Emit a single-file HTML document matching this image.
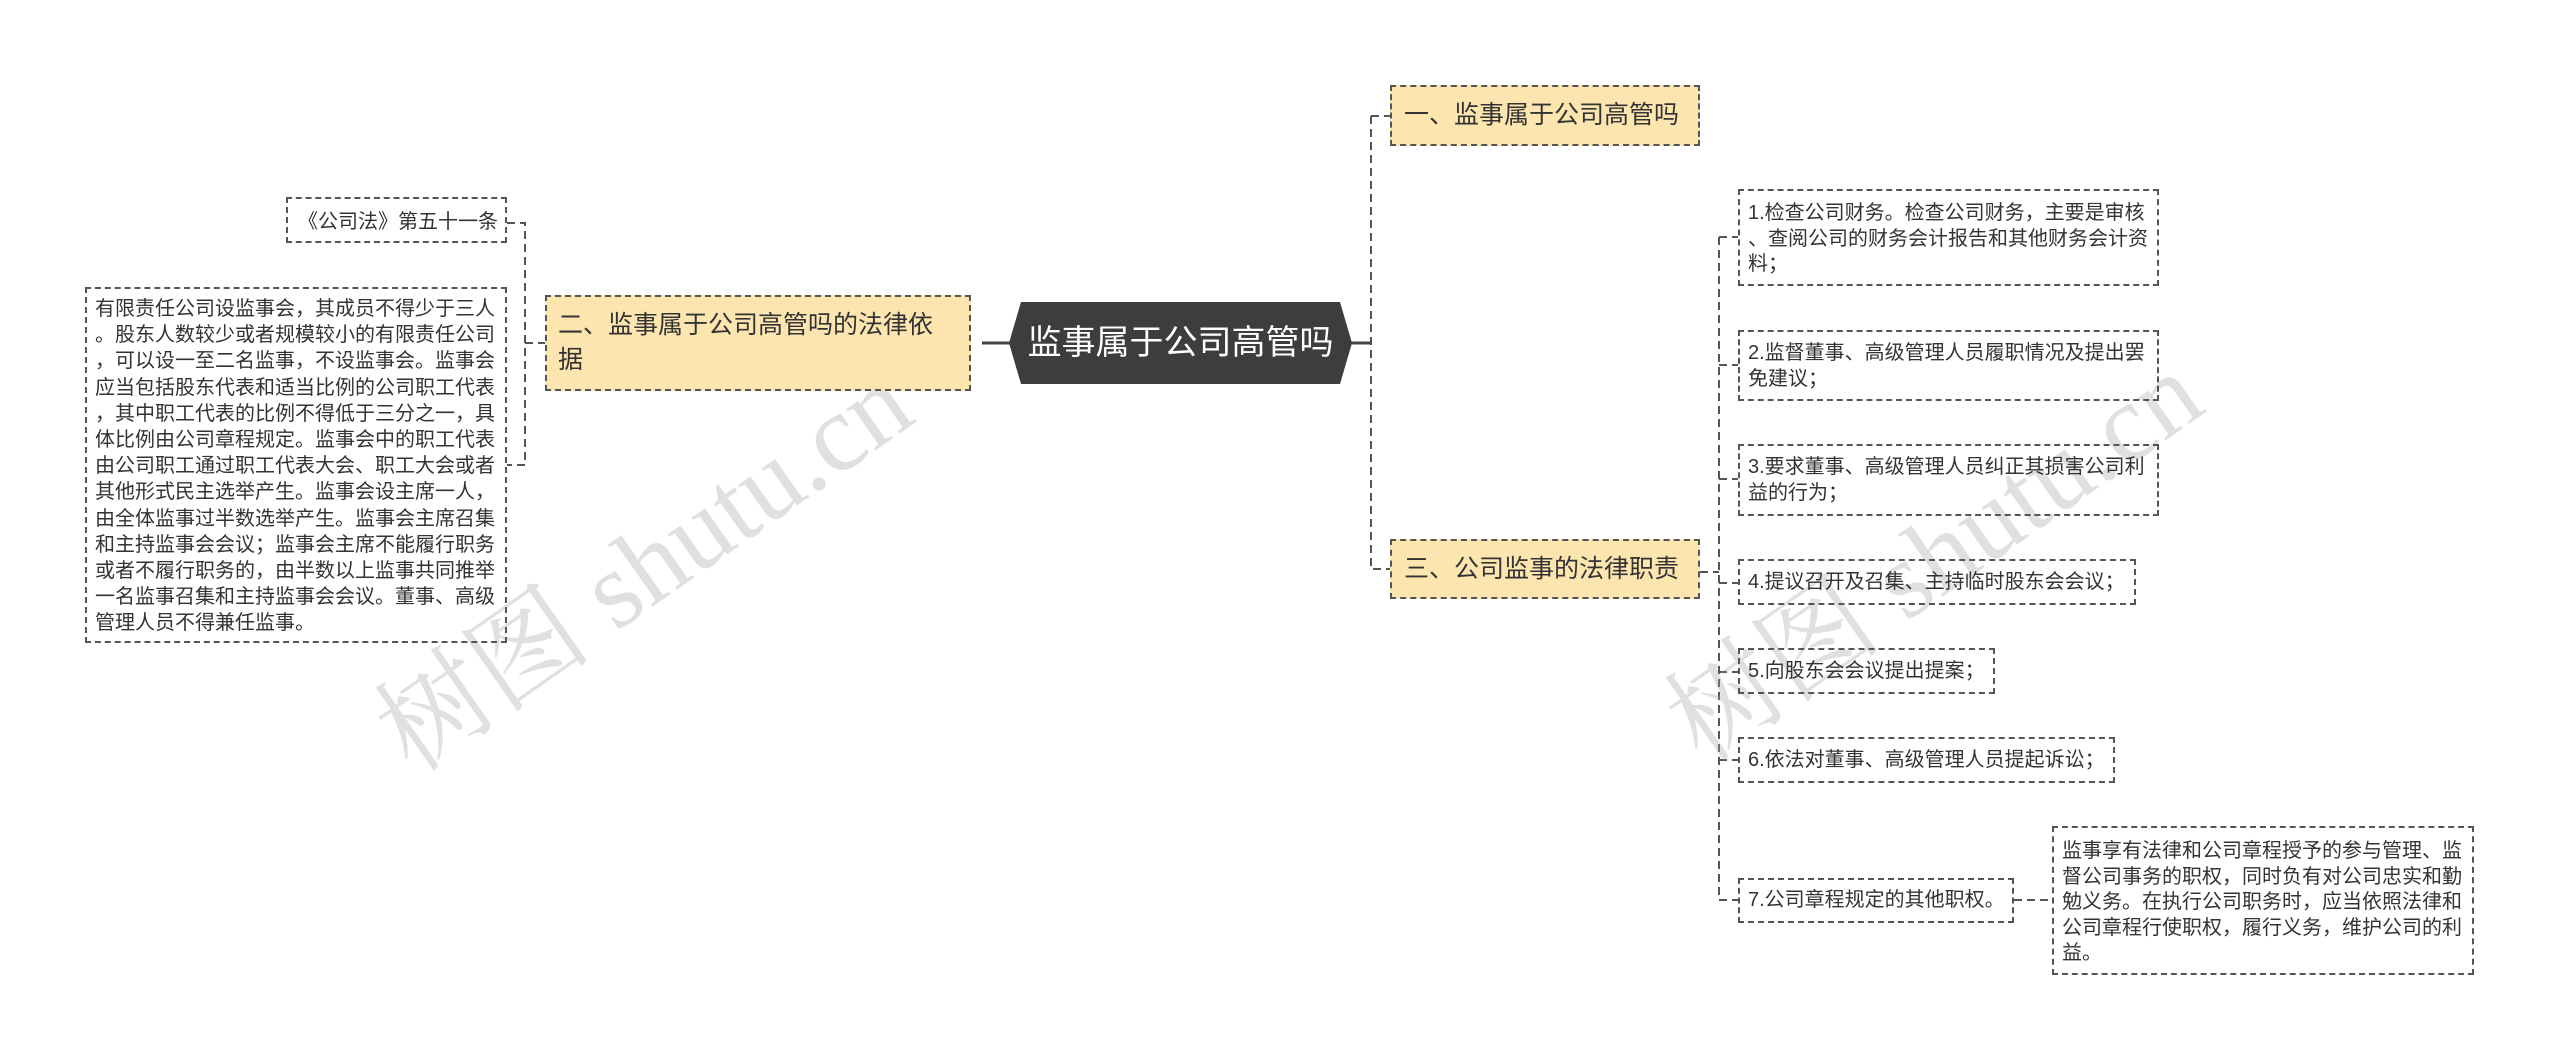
<!DOCTYPE html>
<html><head><meta charset="utf-8">
<style>
html,body{margin:0;padding:0;}
body{width:2560px;height:1061px;background:#fff;position:relative;overflow:hidden;font-family:"Liberation Sans","Noto Sans CJK SC",sans-serif;color:#333;}
.b{position:absolute;box-sizing:border-box;border:2px dashed #555;}
.y{background:#fde5b0;}
.t{position:absolute;white-space:pre;font-size:20px;line-height:25.5px;}
.wm{position:absolute;font-family:"Liberation Serif","Noto Serif CJK SC",serif;font-size:110px;color:rgba(160,160,160,0.33);transform:rotate(-35deg);white-space:nowrap;transform-origin:center;}
</style></head><body>
<svg width="2560" height="1061" style="position:absolute;left:0;top:0" fill="none">
<g stroke="#555" stroke-width="2" stroke-dasharray="8,5">
<path d="M507 223 H525 V465 H507 M525 343 H545"/>
<path d="M1371 116 H1390 M1371 116 V569 H1390"/>
<path d="M1700 572 H1719 M1719 237 V900 M1719 237 H1738 M1719 365 H1738 M1719 479 H1738 M1719 583 H1738 M1719 672 H1738 M1719 760 H1738 M1719 900 H1738 M2014 900 H2052"/>
</g>
<g stroke="#444" stroke-width="3">
<path d="M982 343 H1010 M1351 343 H1371"/>
</g>
</svg>

<div class="wm" style="left:330px;top:480px;">树图 shutu.cn</div>
<div class="wm" style="left:1620px;top:470px;">树图 shutu.cn</div>

<div class="b" style="left:286px;top:197px;width:221px;height:46px;"></div>
<div class="t" style="left:298px;top:210px;">《公司法》第五十一条</div>

<div class="b" style="left:85px;top:287px;width:422px;height:356px;"></div>
<div class="t" style="left:95px;top:296px;line-height:26.2px;">有限责任公司设监事会，其成员不得少于三人
。股东人数较少或者规模较小的有限责任公司
，可以设一至二名监事，不设监事会。监事会
应当包括股东代表和适当比例的公司职工代表
，其中职工代表的比例不得低于三分之一，具
体比例由公司章程规定。监事会中的职工代表
由公司职工通过职工代表大会、职工大会或者
其他形式民主选举产生。监事会设主席一人，
由全体监事过半数选举产生。监事会主席召集
和主持监事会会议；监事会主席不能履行职务
或者不履行职务的，由半数以上监事共同推举
一名监事召集和主持监事会会议。董事、高级
管理人员不得兼任监事。</div>

<div class="b y" style="left:545px;top:295px;width:426px;height:96px;"></div>
<div class="t" style="left:558px;top:308px;font-size:25px;line-height:35px;">二、监事属于公司高管吗的法律依
据</div>

<div style="position:absolute;left:1009px;top:302px;width:343px;height:82px;background:#3d3d3d;clip-path:polygon(12px 0,331px 0,343px 41px,331px 82px,12px 82px,0 41px);"></div>
<div class="t" style="left:1009px;top:302px;width:343px;height:82px;line-height:82px;text-align:center;font-size:34px;color:#fff;">监事属于公司高管吗</div>

<div class="b y" style="left:1390px;top:85px;width:310px;height:61px;"></div>
<div class="t" style="left:1404px;top:98px;font-size:25px;line-height:35px;">一、监事属于公司高管吗</div>

<div class="b y" style="left:1390px;top:539px;width:310px;height:60px;"></div>
<div class="t" style="left:1404px;top:552px;font-size:25px;line-height:35px;">三、公司监事的法律职责</div>

<div class="b" style="left:1738px;top:189px;width:421px;height:97px;"></div>
<div class="t" style="left:1748px;top:201px;">1.检查公司财务。检查公司财务，主要是审核
、查阅公司的财务会计报告和其他财务会计资
料；</div>

<div class="b" style="left:1738px;top:330px;width:421px;height:71px;"></div>
<div class="t" style="left:1748px;top:341px;">2.监督董事、高级管理人员履职情况及提出罢
免建议；</div>

<div class="b" style="left:1738px;top:444px;width:421px;height:72px;"></div>
<div class="t" style="left:1748px;top:455px;">3.要求董事、高级管理人员纠正其损害公司利
益的行为；</div>

<div class="b" style="left:1738px;top:559px;width:398px;height:46px;"></div>
<div class="t" style="left:1748px;top:570px;">4.提议召开及召集、主持临时股东会会议；</div>

<div class="b" style="left:1738px;top:648px;width:257px;height:46px;"></div>
<div class="t" style="left:1748px;top:659px;">5.向股东会会议提出提案；</div>

<div class="b" style="left:1738px;top:737px;width:377px;height:46px;"></div>
<div class="t" style="left:1748px;top:748px;">6.依法对董事、高级管理人员提起诉讼；</div>

<div class="b" style="left:1738px;top:878px;width:276px;height:45px;"></div>
<div class="t" style="left:1748px;top:888px;">7.公司章程规定的其他职权。</div>

<div class="b" style="left:2052px;top:826px;width:422px;height:149px;"></div>
<div class="t" style="left:2062px;top:839px;">监事享有法律和公司章程授予的参与管理、监
督公司事务的职权，同时负有对公司忠实和勤
勉义务。在执行公司职务时，应当依照法律和
公司章程行使职权，履行义务，维护公司的利
益。</div>
</body></html>
